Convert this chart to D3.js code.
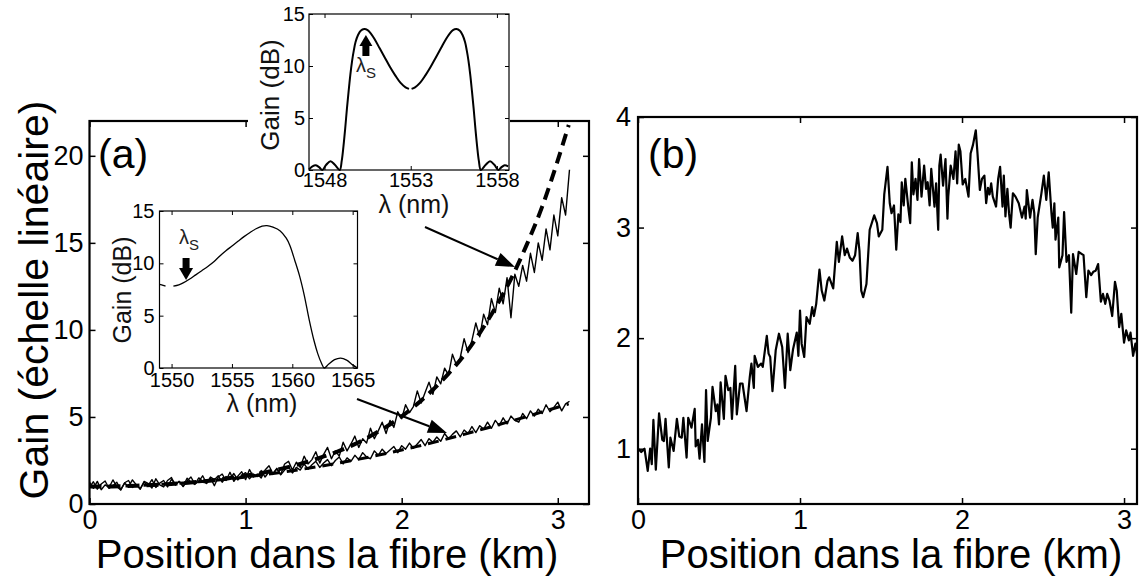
<!DOCTYPE html>
<html>
<head>
<meta charset="utf-8">
<script src="https://cdn.jsdelivr.net/npm/d3@7"></script>
<style>
  body { margin: 0; background: #fff; }
  svg { display: block; }
  text { font-family: "Liberation Sans", Arial, Helvetica, sans-serif; }
</style>
</head>
<body>
<svg id="fig" width="1139" height="581"></svg>
<script>
// ---------- Panel (a): gain along the fibre ----------
const stepA = 0.025;                       // sampling step of the measured traces (km)
const posA = d3.range(124).map(i => +(i * stepA).toFixed(3));

// measured gain, strong-gain configuration
const gainHigh = [
  1.25, 0.90, 1.30, 0.82, 1.10, 0.95, 1.38, 1.00, 0.80, 1.22,
  1.35, 0.95, 1.12, 0.85, 1.30, 1.18, 0.92, 1.45, 1.10, 0.98,
  1.35, 1.52, 1.08, 1.30, 1.00, 1.32, 1.55, 1.15, 1.30, 1.62,
  1.18, 1.50, 1.05, 1.55, 1.72, 1.35, 1.82, 1.30, 1.60, 1.85,
  1.40, 1.98, 1.55, 1.72, 1.50, 1.95, 2.20, 1.75, 2.05, 1.70,
  2.30, 2.45, 1.95, 2.40, 2.10, 2.75, 2.30, 2.55, 3.00, 2.35,
  2.85, 3.25, 2.60, 3.05, 2.75, 3.55, 3.05, 3.45, 3.90, 3.25,
  3.75, 3.50, 4.35, 3.75, 4.20, 4.70, 4.05, 4.80, 4.40, 5.30,
  4.90, 5.70, 5.25, 5.60, 6.50, 5.80, 6.40, 7.00, 6.30, 7.30,
  6.90, 7.80, 7.40, 8.60, 8.00, 8.40, 9.50, 8.70, 9.40, 10.40,
  9.60, 10.90, 10.30, 11.80, 11.00, 12.40, 11.50, 13.00, 10.70, 13.20,
  12.50, 13.70, 12.80, 14.40, 13.30, 15.00, 14.00, 15.80, 14.60, 16.60,
  15.40, 17.60, 16.60, 19.20
];

// measured gain, weak-gain configuration
const gainLow = [
  0.95, 1.28, 0.85, 1.15, 1.32, 0.90, 1.05, 1.25, 0.82, 1.20,
  1.00, 1.38, 1.10, 0.88, 1.25, 1.05, 1.40, 0.95, 1.20, 1.35,
  0.98, 1.42, 1.15, 1.30, 1.02, 1.48, 1.25, 1.12, 1.50, 1.30,
  1.18, 1.55, 1.40, 1.62, 1.25, 1.58, 1.45, 1.75, 1.38, 1.65,
  1.80, 1.45, 1.72, 1.58, 1.92, 1.55, 1.85, 1.70, 2.02, 1.68,
  1.95, 2.15, 1.78, 2.10, 1.95, 2.30, 2.00, 2.25, 2.45, 2.10,
  2.35, 2.55, 2.20, 2.50, 2.70, 2.30, 2.65, 2.45, 2.80, 2.55,
  2.95, 2.70, 2.60, 3.05, 2.80, 3.15, 2.90, 3.10, 3.30, 2.95,
  3.35, 3.15, 3.50, 3.20, 3.45, 3.70, 3.35, 3.75, 3.55, 3.85,
  3.60, 4.05, 3.75, 4.00, 4.20, 3.85, 4.25, 4.05, 4.45, 4.10,
  4.50, 4.30, 4.70, 4.35, 4.80, 4.50, 4.95, 4.60, 5.05, 4.80,
  4.70, 5.20, 4.90, 5.35, 5.05, 5.45, 5.20, 5.70, 5.30, 5.55,
  5.85, 5.35, 5.75, 5.90
];

// computed gain (dashed curves)
const posTheory = [0, 0.1, 0.2, 0.3, 0.4, 0.5, 0.6, 0.7, 0.8, 0.9, 1.0, 1.1, 1.2, 1.3, 1.4, 1.5,
                   1.6, 1.7, 1.8, 1.9, 2.0, 2.1, 2.2, 2.3, 2.4, 2.5, 2.6, 2.7, 2.8, 2.9, 3.0, 3.07];
const theoryHigh = [1.00, 1.005, 1.02, 1.05, 1.09, 1.14, 1.20, 1.28, 1.37, 1.49, 1.62, 1.78, 1.97, 2.18, 2.43, 2.73,
                    3.05, 3.44, 3.90, 4.43, 5.03, 5.75, 6.56, 7.49, 8.55, 9.82, 11.27, 12.92, 14.87, 17.08, 19.74, 21.77];
const theoryLow  = [1.00, 1.01, 1.03, 1.06, 1.10, 1.15, 1.21, 1.28, 1.36, 1.45, 1.55, 1.66, 1.78, 1.91, 2.05, 2.20,
                    2.36, 2.53, 2.71, 2.90, 3.10, 3.31, 3.53, 3.76, 4.00, 4.25, 4.50, 4.76, 5.02, 5.29, 5.56, 5.75];

const ticksAx = [0, 1, 2, 3];
const ticksAy = [0, 5, 10, 15, 20];

// ---------- Inset: two-lobe gain spectrum ----------
const lambda1 = [1547.1, 1547.3, 1547.5, 1547.7, 1547.87, 1548.1, 1548.35, 1548.6, 1548.88, 1549.0,
                 1549.1, 1549.2, 1549.3, 1549.4, 1549.5, 1549.6, 1549.7, 1549.8, 1549.95, 1550.1,
                 1550.3, 1550.5, 1550.7, 1550.9, 1551.2, 1551.5, 1551.8, 1552.1, 1552.4, 1552.7, 1552.9,
                 1553.05, 1553.25, 1553.55, 1553.85, 1554.15, 1554.45, 1554.75, 1555.05, 1555.25, 1555.45,
                 1555.65, 1555.85, 1556.0, 1556.15, 1556.25, 1556.35, 1556.45, 1556.55, 1556.65, 1556.75,
                 1556.85, 1556.95, 1557.07, 1557.35, 1557.6, 1557.85, 1558.08, 1558.25, 1558.45, 1558.65];
const gainDb1 = [0.05, 0.35, 0.45, 0.25, 0.0, 0.5, 0.85, 0.5, 0.0, 0.9,
                 2.3, 4.0, 5.9, 7.6, 9.2, 10.5, 11.5, 12.3, 13.0, 13.4,
                 13.55, 13.45, 13.1, 12.6, 11.7, 10.8, 9.9, 9.1, 8.4, 7.95, 7.8,
                 7.8, 7.95, 8.4, 9.1, 9.9, 10.8, 11.7, 12.6, 13.1, 13.45,
                 13.55, 13.4, 13.0, 12.3, 11.5, 10.5, 9.2, 7.6, 5.9, 4.0,
                 2.3, 0.9, 0.0, 0.5, 0.85, 0.5, 0.0, 0.25, 0.45, 0.35];
const break1 = 1553.0;            // the trace is interrupted at the centre wavelength
const signal1 = 1550.4;           // λS marker
const ticks1x = [1548, 1553, 1558];
const ticksDb = [0, 5, 10, 15];

// ---------- Inset: one-lobe gain spectrum ----------
const lambda2 = [1549.0, 1549.3, 1549.5, 1550.15, 1550.6, 1551.0, 1551.5, 1552.0, 1552.5, 1553.0,
                 1553.5, 1554.0, 1554.5, 1555.0, 1555.5, 1556.0, 1556.5, 1557.0, 1557.5, 1557.9,
                 1558.4, 1559.0, 1559.5, 1559.8, 1560.2, 1560.6, 1561.0, 1561.4, 1561.8, 1562.1,
                 1562.4, 1562.65, 1563.0, 1563.5, 1564.0, 1564.5, 1565.0, 1565.4];
const gainDb2 = [8.0, 7.9, 7.82, 7.82, 7.95, 8.15, 8.5, 8.9, 9.3, 9.7,
                 10.15, 10.7, 11.2, 11.65, 12.1, 12.55, 12.95, 13.3, 13.55, 13.6,
                 13.45, 13.1, 12.4, 11.7, 10.3, 8.8, 6.9, 4.6, 2.6, 1.4,
                 0.5, 0.0, 0.35, 0.8, 0.95, 0.75, 0.3, 0.0];
const break2 = 1549.8;
const signal2 = 1551.2;
const ticks2x = [1550, 1555, 1560, 1565];

// ---------- Panel (b) ----------
const posB = [
  0.000, 0.020, 0.040, 0.060, 0.075, 0.085, 0.095, 0.110, 0.130, 0.150,
  0.160, 0.170, 0.190, 0.200, 0.220, 0.240, 0.255, 0.270, 0.280, 0.300,
  0.310, 0.330, 0.350, 0.356, 0.370, 0.380, 0.395, 0.410, 0.420, 0.430,
  0.450, 0.460, 0.480, 0.490, 0.500, 0.510, 0.530, 0.540, 0.557, 0.570,
  0.580, 0.600, 0.610, 0.630, 0.645, 0.670, 0.690, 0.700, 0.715, 0.720,
  0.740, 0.760, 0.770, 0.795, 0.806, 0.816, 0.830, 0.850, 0.870, 0.890,
  0.907, 0.924, 0.940, 0.957, 0.980, 0.990, 1.000, 1.010, 1.026, 1.040,
  1.060, 1.075, 1.086, 1.100, 1.120, 1.134, 1.150, 1.170, 1.180, 1.205,
  1.227, 1.240, 1.260, 1.276, 1.290, 1.307, 1.324, 1.340, 1.356, 1.367,
  1.378, 1.390, 1.410, 1.430, 1.458, 1.475, 1.486, 1.508, 1.520, 1.540,
  1.554, 1.565, 1.580, 1.594, 1.607, 1.620, 1.628, 1.640, 1.650, 1.670,
  1.680, 1.690, 1.700, 1.713, 1.725, 1.735, 1.750, 1.766, 1.778, 1.788,
  1.800, 1.810, 1.830, 1.840, 1.853, 1.860, 1.868, 1.883, 1.898, 1.910,
  1.915, 1.930, 1.947, 1.960, 1.970, 1.980, 1.990, 2.004, 2.020, 2.040,
  2.053, 2.068, 2.085, 2.096, 2.110, 2.123, 2.138, 2.149, 2.160, 2.170,
  2.180, 2.190, 2.210, 2.223, 2.235, 2.250, 2.258, 2.268, 2.280, 2.290,
  2.300, 2.314, 2.330, 2.350, 2.370, 2.386, 2.393, 2.400, 2.420, 2.435,
  2.446, 2.455, 2.467, 2.490, 2.505, 2.520, 2.535, 2.552, 2.560, 2.570,
  2.577, 2.594, 2.600, 2.620, 2.630, 2.645, 2.660, 2.674, 2.685, 2.705,
  2.720, 2.740, 2.750, 2.767, 2.780, 2.797, 2.810, 2.825, 2.840, 2.857,
  2.870, 2.884, 2.896, 2.910, 2.927, 2.944, 2.955, 2.970, 2.983, 3.000,
  3.013, 3.030, 3.040, 3.056, 3.070, 3.080
];
const gainB = [
  1.00, 0.97, 1.00, 0.80, 1.00, 0.86, 1.26, 0.81, 1.32, 1.08,
  1.07, 1.27, 0.83, 1.10, 0.98, 1.27, 1.11, 1.10, 1.28, 0.92,
  1.28, 1.19, 1.36, 1.02, 1.08, 0.91, 1.22, 0.88, 1.53, 1.07,
  1.28, 1.56, 1.34, 1.40, 1.22, 1.60, 1.27, 1.66, 1.53, 1.55,
  1.27, 1.75, 1.31, 1.59, 1.59, 1.34, 1.65, 1.77, 1.55, 1.84,
  1.74, 1.77, 1.74, 2.02, 1.86, 1.83, 1.52, 1.89, 2.04, 1.92,
  1.55, 2.04, 1.71, 1.90, 2.05, 1.84, 2.25, 1.95, 1.83, 2.19,
  2.13, 2.28, 2.20, 2.31, 2.62, 2.43, 2.34, 2.52, 2.55, 2.45,
  2.87, 2.69, 2.92, 2.75, 2.81, 2.73, 2.70, 2.75, 2.95, 2.79,
  2.43, 2.37, 2.49, 2.98, 3.11, 3.04, 2.92, 2.98, 3.30, 3.55,
  3.22, 3.13, 3.20, 2.80, 3.12, 3.05, 3.41, 3.20, 3.44, 3.16,
  3.04, 3.59, 3.30, 3.44, 3.25, 3.62, 3.28, 3.56, 3.35, 3.41,
  3.20, 3.53, 3.19, 3.40, 2.98, 3.56, 3.66, 3.38, 3.62, 3.08,
  3.28, 3.56, 3.44, 3.69, 3.40, 3.75, 3.69, 3.39, 3.44, 3.28,
  3.67, 3.75, 3.88, 3.66, 3.34, 3.44, 3.47, 3.22, 3.36, 3.30,
  3.40, 3.28, 3.19, 3.44, 3.55, 3.19, 3.47, 3.10, 3.35, 3.13,
  3.00, 3.31, 3.28, 3.22, 3.09, 3.19, 3.08, 3.34, 3.09, 3.25,
  3.13, 2.76, 3.09, 3.31, 3.47, 3.25, 3.50, 3.13, 3.00, 3.22,
  2.89, 3.09, 2.64, 2.75, 3.14, 2.69, 2.75, 2.23, 2.76, 2.58,
  2.78, 2.76, 2.75, 2.37, 2.61, 2.57, 2.60, 2.61, 2.67, 2.33,
  2.40, 2.31, 2.40, 2.34, 2.20, 2.51, 2.43, 2.10, 2.22, 1.96,
  2.07, 1.98, 2.05, 1.84, 1.95, 1.86
];
const ticksBx = [0, 1, 2, 3];
const ticksBy = [1, 2, 3, 4];

// ================= drawing =================
const svg = d3.select('#fig');
svg.append('rect').attr('width', 1139).attr('height', 581).attr('fill', '#fff');

// Boxed axes with inward ticks on all four sides, labels on bottom and left.
function boxAxes(g, x, y, xt, yt, o) {
  const [xa, xb] = x.range();
  const [yb, ya] = y.range();
  const style = sel => {
    sel.select('.domain').remove();
    sel.selectAll('line').attr('stroke', '#000').attr('stroke-width', o.tickWidth);
    sel.selectAll('text').attr('fill', '#000').attr('font-size', o.font)
       .attr('font-family', '"Liberation Sans", Arial, sans-serif');
  };
  g.append('g').attr('transform', `translate(0,${yb})`)
    .call(d3.axisBottom(x).tickValues(xt).tickSizeInner(-o.tick).tickSizeOuter(0)
      .tickPadding(o.padX).tickFormat(d3.format('d'))).call(style);
  g.append('g').attr('transform', `translate(0,${ya})`)
    .call(d3.axisTop(x).tickValues(xt).tickSizeInner(-o.tick).tickSizeOuter(0).tickFormat(''))
    .call(style);
  g.append('g').attr('transform', `translate(${xa},0)`)
    .call(d3.axisLeft(y).tickValues(yt).tickSizeInner(-o.tick).tickSizeOuter(0)
      .tickPadding(o.padY).tickFormat(d3.format('d'))).call(style);
  g.append('g').attr('transform', `translate(${xb},0)`)
    .call(d3.axisRight(y).tickValues(yt).tickSizeInner(-o.tick).tickSizeOuter(0).tickFormat(''))
    .call(style);
  g.append('rect').attr('x', xa).attr('y', ya).attr('width', xb - xa).attr('height', yb - ya)
    .attr('fill', 'none').attr('stroke', '#000').attr('stroke-width', o.boxWidth);
}

function arrow(g, x1, y1, x2, y2, len, half) {
  const a = Math.atan2(y2 - y1, x2 - x1);
  const bx = x2 - len * Math.cos(a), by = y2 - len * Math.sin(a);
  g.append('line').attr('x1', x1).attr('y1', y1).attr('x2', bx).attr('y2', by)
    .attr('stroke', '#000').attr('stroke-width', 2);
  const px = -Math.sin(a) * half, py = Math.cos(a) * half;
  g.append('path')
    .attr('d', `M${x2},${y2}L${bx + px},${by + py}L${bx - px},${by - py}Z`)
    .attr('fill', '#000');
}

// Spectrum trace, split where the measurement is interrupted.
function spectrum(g, x, y, lam, gain, cut, width) {
  const parts = [lam.map((l, i) => [l, gain[i]]).filter(p => p[0] < cut),
                 lam.map((l, i) => [l, gain[i]]).filter(p => p[0] > cut)];
  parts.forEach(p => {
    g.append('path').datum(p)
      .attr('d', d3.line().x(d => x(d[0])).y(d => y(d[1])).curve(d3.curveCatmullRom))
      .attr('fill', 'none').attr('stroke', '#000').attr('stroke-width', width);
  });
}

// ---- panel (a) ----
const xA = d3.scaleLinear().domain([0, 3.2]).range([89.5, 589]);
const yA = d3.scaleLinear().domain([0, 22]).range([504, 121]);
const gA = svg.append('g');

const lineA = (xs) => d3.line().x((d, i) => xA(xs[i])).y(d => yA(d));
gA.append('path').datum(gainLow).attr('d', lineA(posA))
  .attr('fill', 'none').attr('stroke', '#000').attr('stroke-width', 1.4).attr('stroke-linejoin', 'round');
gA.append('path').datum(gainHigh).attr('d', lineA(posA))
  .attr('fill', 'none').attr('stroke', '#000').attr('stroke-width', 1.4).attr('stroke-linejoin', 'round');
gA.append('path').datum(theoryLow).attr('d', lineA(posTheory).curve(d3.curveMonotoneX))
  .attr('fill', 'none').attr('stroke', '#000').attr('stroke-width', 3).attr('stroke-dasharray', '11,7');
gA.append('path').datum(theoryHigh).attr('d', lineA(posTheory).curve(d3.curveMonotoneX))
  .attr('fill', 'none').attr('stroke', '#000').attr('stroke-width', 4).attr('stroke-dasharray', '12,7');

boxAxes(gA, xA, yA, ticksAx, ticksAy,
  { tick: 6, font: 27, padX: 6, padY: 6, tickWidth: 1.5, boxWidth: 2.2 });

gA.append('text').attr('x', 98).attr('y', 168).attr('font-size', 41).text('(a)');
gA.append('text').attr('x', 327).attr('y', 568).attr('text-anchor', 'middle')
  .attr('font-size', 40).text('Position dans la fibre (km)');
gA.append('text').attr('transform', 'translate(48,300) rotate(-90)').attr('text-anchor', 'middle')
  .attr('font-size', 41).text('Gain (échelle linéaire)');

// ---- inset with the two-lobe spectrum ----
const gI1 = svg.append('g');
gI1.append('rect').attr('x', 248).attr('y', 0).attr('width', 262).attr('height', 222).attr('fill', '#fff');
const x1 = d3.scaleLinear().domain([1547.1, 1558.7]).range([309, 509]);
const y1 = d3.scaleLinear().domain([0, 15]).range([170, 14]);
spectrum(gI1, x1, y1, lambda1, gainDb1, break1, 2);
boxAxes(gI1, x1, y1, ticks1x, ticksDb,
  { tick: 4, font: 20, padX: 3, padY: 4, tickWidth: 1, boxWidth: 1.2 });
gI1.append('text').attr('transform', 'translate(279,95) rotate(-90)').attr('text-anchor', 'middle')
  .attr('font-size', 26).attr('fill', '#111').text('Gain (dB)');
gI1.append('text').attr('x', 414).attr('y', 213).attr('text-anchor', 'middle')
  .attr('font-size', 25).attr('fill', '#111').text('λ (nm)');
// signal marker: upward block arrow
{
  const cx = x1(signal1);
  gI1.append('rect').attr('x', cx - 3.5).attr('y', 44).attr('width', 7).attr('height', 12).attr('fill', '#000');
  gI1.append('path').attr('d', `M${cx},35L${cx - 6.5},46L${cx + 6.5},46Z`).attr('fill', '#000');
  const t = gI1.append('text').attr('x', cx - 10).attr('y', 72).attr('font-size', 20).attr('fill', '#222');
  t.append('tspan').text('λ');
  t.append('tspan').attr('dy', 6).attr('font-size', 15).text('S');
}

// ---- inset with the one-lobe spectrum ----
const gI2 = svg.append('g');
gI2.append('rect').attr('x', 112).attr('y', 196).attr('width', 262).attr('height', 222).attr('fill', '#fff');
const x2 = d3.scaleLinear().domain([1549, 1565.4]).range([159.5, 357.5]);
const y2 = d3.scaleLinear().domain([0, 15]).range([368, 211]);
spectrum(gI2, x2, y2, lambda2, gainDb2, break2, 1.3);
boxAxes(gI2, x2, y2, ticks2x, ticksDb,
  { tick: 4, font: 20, padX: 5, padY: 5, tickWidth: 1, boxWidth: 1.2 });
gI2.append('text').attr('transform', 'translate(131,290) rotate(-90)').attr('text-anchor', 'middle')
  .attr('font-size', 25).attr('fill', '#111').text('Gain (dB)');
gI2.append('text').attr('x', 262).attr('y', 412).attr('text-anchor', 'middle')
  .attr('font-size', 25).attr('fill', '#111').text('λ (nm)');
{
  const cx = x2(signal2);
  gI2.append('rect').attr('x', cx - 3.5).attr('y', 258).attr('width', 7).attr('height', 12).attr('fill', '#000');
  gI2.append('path').attr('d', `M${cx - 7},268L${cx + 7},268L${cx},280Z`).attr('fill', '#000');
  const t = gI2.append('text').attr('x', cx - 7).attr('y', 244).attr('font-size', 20).attr('fill', '#222');
  t.append('tspan').text('λ');
  t.append('tspan').attr('dy', 6).attr('font-size', 15).text('S');
}

// pointers from the insets to their traces
arrow(svg, 425, 227, 515, 267, 19, 7);
arrow(svg, 357, 399, 447, 433, 19, 7);

// ---- panel (b) ----
const xB = d3.scaleLinear().domain([0, 3.08]).range([638, 1137]);
const yB = d3.scaleLinear().domain([0.5, 4]).range([504, 117]);
const gB = svg.append('g');
gB.append('path').datum(gainB)
  .attr('d', d3.line().x((d, i) => xB(posB[i])).y(d => yB(d)))
  .attr('fill', 'none').attr('stroke', '#000').attr('stroke-width', 2.2).attr('stroke-linejoin', 'round');
boxAxes(gB, xB, yB, ticksBx, ticksBy,
  { tick: 6, font: 27, padX: 6, padY: 7, tickWidth: 1.5, boxWidth: 2.2 });
gB.append('text').attr('x', 648).attr('y', 168).attr('font-size', 41).text('(b)');
gB.append('text').attr('x', 891).attr('y', 568).attr('text-anchor', 'middle')
  .attr('font-size', 40).text('Position dans la fibre (km)');
</script>
</body>
</html>
